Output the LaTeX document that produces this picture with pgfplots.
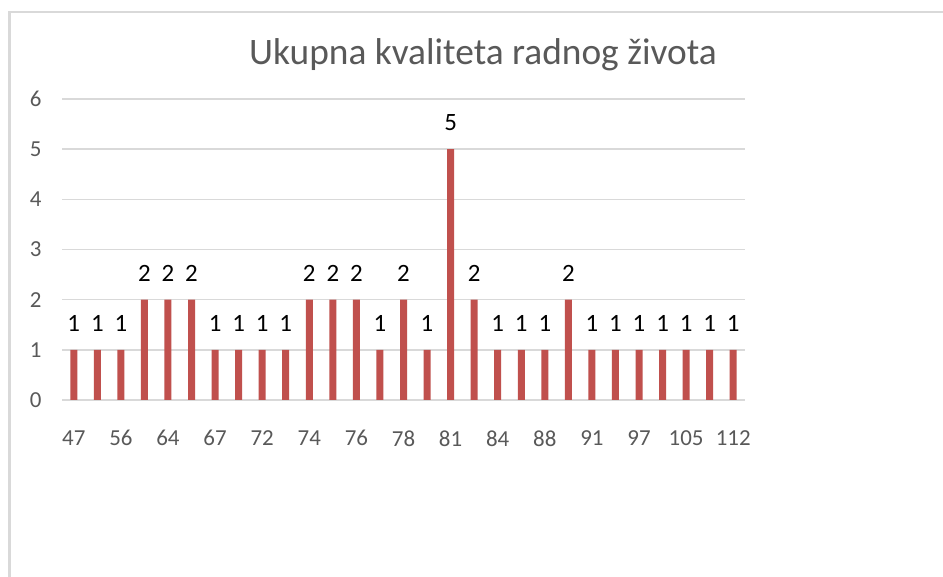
\documentclass[border=0pt]{standalone}
\usepackage{pgfplots}
\pgfplotsset{compat=1.18}
\usepackage{fontspec}
\setmainfont{Carlito}
\definecolor{barred}{HTML}{C0504D}
\definecolor{gridgray}{HTML}{D9D9D9}
\definecolor{txtgray}{HTML}{595959}
\begin{document}
\begin{tikzpicture}[x=1bp,y=1bp]
\path[use as bounding box] (0,0) rectangle (943,577);
\fill[white] (0,0) rectangle (943,577);
\draw[gridgray, line width=2.5bp] (9.5,0) -- (9.5,565) -- (943,565);
\node[txtgray, font=\fontsize{37.5}{40}\selectfont] at (483,522) {Ukupna kvaliteta radnog života};
\begin{axis}[
  at={(62bp,177bp)}, anchor=south west,
  scale only axis, width=683bp, height=301bp,
  xmin=-0.5, xmax=28.5, ymin=0, ymax=6,
  ybar, bar width=7bp,
  axis line style={draw=none},
  major tick length=0pt,
  ymajorgrids, grid style={gridgray, line width=1.5bp},
  ytick={0,1,2,3,4,5,6},
  xtick={0,2,...,28},
  xticklabels={47,56,64,67,72,74,76,78,81,84,88,91,97,105,112},
  /pgf/number format/assume math mode=true,
  tick label style={txtgray, font=\fontsize{23}{26}\selectfont},
  yticklabel style={xshift=-17bp},
  xticklabel style={yshift=-27bp},
  nodes near coords,
  every node near coord/.append style={black, font=\fontsize{25}{28}\selectfont, anchor=south, inner sep=0pt, yshift=18bp},
  clip=false,
]
\addplot[fill=barred, draw=none] coordinates {
(0,1) (1,1) (2,1) (3,2) (4,2) (5,2) (6,1) (7,1) (8,1) (9,1)
(10,2) (11,2) (12,2) (13,1) (14,2) (15,1) (16,5) (17,2) (18,1) (19,1)
(20,1) (21,2) (22,1) (23,1) (24,1) (25,1) (26,1) (27,1) (28,1)
};
\end{axis}
\end{tikzpicture}
\end{document}
